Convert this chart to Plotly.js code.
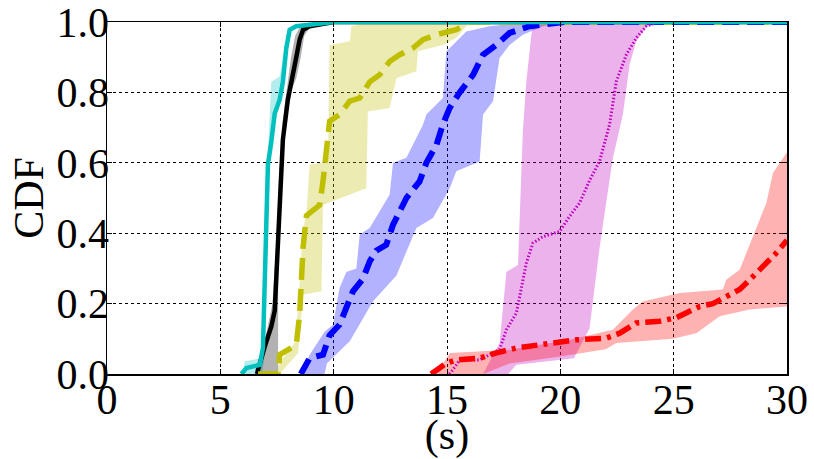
<!DOCTYPE html>
<html>
<head>
<meta charset="utf-8">
<script src="https://cdn.plot.ly/plotly-3.0.1.min.js"></script>
<style>html,body{margin:0;padding:0;background:#fff;}#chart{width:814px;height:459px;}</style>
</head>
<body>
<div id="chart"></div>
<script>
// ---- data (x in seconds, y = CDF) ----
const xTicks = [0, 5, 10, 15, 20, 25, 30];
const yTicks = [0.0, 0.2, 0.4, 0.6, 0.8, 1.0];

// cyan series
const cyanX = [5.93, 6.15, 6.74, 6.88, 6.96, 7.03, 7.10, 7.25, 7.40, 7.62, 7.76, 7.91, 8.06, 8.35, 9.24, 10.0, 30];
const cyanY = [0, 0.017, 0.026, 0.074, 0.263, 0.45, 0.595, 0.66, 0.74, 0.78, 0.83, 0.926, 0.978, 0.988, 0.995, 1, 1];
const cyanUpX = [6.0, 6.07, 6.81, 6.88, 6.96, 7.10, 7.25, 7.62, 7.84, 8.06, 8.65, 9.5];
const cyanUpY = [0, 0.036, 0.045, 0.074, 0.434, 0.62, 0.83, 0.845, 0.926, 0.98, 0.99, 1];
const cyanLoX = [6.85, 6.95, 7.02, 7.08, 7.15, 7.30, 7.48, 7.68, 7.82, 7.97, 8.15, 8.6, 9.5];
const cyanLoY = [0, 0.05, 0.26, 0.45, 0.595, 0.66, 0.74, 0.78, 0.83, 0.926, 0.978, 0.99, 1];

// black series
const blackX = [6.62, 6.66, 6.96, 7.25, 7.40, 7.50, 7.62, 7.76, 7.98, 8.20, 8.35, 8.50, 8.65, 8.94, 9.68, 10.0, 30];
const blackY = [0, 0.012, 0.078, 0.135, 0.18, 0.306, 0.495, 0.666, 0.78, 0.845, 0.90, 0.95, 0.978, 0.988, 0.995, 1, 1];
const blackUpX = [6.66, 6.85, 7.05, 7.3, 7.45, 7.58, 7.75, 7.95, 8.12, 8.3, 8.5, 8.9, 9.5];
const blackUpY = [0, 0.06, 0.12, 0.2, 0.35, 0.55, 0.72, 0.82, 0.9, 0.96, 0.985, 0.995, 1];
const blackLoX = [7.55, 7.55, 7.6, 7.72, 7.9, 8.1, 8.35, 8.55, 8.7, 9.0, 10.0];
const blackLoY = [0, 0.29, 0.45, 0.62, 0.73, 0.8, 0.84, 0.9, 0.96, 0.99, 1];

// olive (yellow) series
const oliveX = [6.66, 7.55, 7.62, 8.35, 8.50, 8.65, 8.80, 9.38, 9.53, 9.68, 9.82, 10.26, 10.71, 11.15, 11.59, 12.03, 12.47, 12.91, 13.50, 13.94, 14.53, 15.41, 16.0, 30];
const oliveY = [0, 0, 0.055, 0.083, 0.17, 0.36, 0.45, 0.48, 0.547, 0.64, 0.718, 0.737, 0.775, 0.784, 0.83, 0.85, 0.888, 0.907, 0.926, 0.95, 0.964, 0.978, 1, 1];
const oliveUpX = [7.45, 7.6, 8.3, 8.45, 8.62, 8.8, 8.94, 9.75, 9.82, 10.71, 10.78, 11.5];
const oliveUpY = [0, 0.03, 0.09, 0.2, 0.4, 0.46, 0.595, 0.604, 0.935, 0.945, 0.988, 1];
const oliveLoX = [7.62, 8.43, 8.65, 9.46, 9.53, 11.44, 11.51, 12.47, 12.77, 13.65, 13.72, 14.82, 15.41, 16.0];
const oliveLoY = [0, 0.06, 0.225, 0.235, 0.48, 0.528, 0.746, 0.756, 0.84, 0.86, 0.917, 0.935, 0.955, 1];

// blue series
const blueX = [8.55, 8.65, 8.94, 9.53, 9.82, 10.26, 10.56, 10.85, 11.29, 11.59, 11.88, 12.32, 12.62, 12.91, 13.21, 13.79, 14.09, 14.53, 14.82, 15.12, 15.56, 16.15, 16.59, 17.18, 17.76, 18.65, 19.53, 20.2, 30];
const blueY = [0, 0.012, 0.045, 0.055, 0.11, 0.14, 0.19, 0.235, 0.27, 0.32, 0.35, 0.367, 0.424, 0.46, 0.50, 0.547, 0.60, 0.65, 0.71, 0.756, 0.80, 0.85, 0.907, 0.935, 0.969, 0.988, 0.993, 1, 1];
const blueUpX = [8.55, 8.94, 9.6, 9.97, 10.26, 10.56, 11.0, 11.15, 11.59, 12.47, 12.62, 13.21, 13.94, 14.09, 14.82, 14.97, 15.26, 15.85, 16.88, 18.5];
const blueUpY = [0, 0.055, 0.12, 0.14, 0.244, 0.29, 0.30, 0.396, 0.415, 0.51, 0.60, 0.614, 0.708, 0.737, 0.784, 0.917, 0.935, 0.973, 0.988, 1];
const blueLoX = [9.6, 9.7, 10.71, 11.73, 12.77, 13.65, 14.38, 15.12, 15.41, 16.44, 16.59, 17.03, 17.32, 17.76, 18.35, 19.24, 20.2];
const blueLoY = [0, 0.03, 0.093, 0.206, 0.28, 0.415, 0.443, 0.528, 0.576, 0.604, 0.737, 0.775, 0.898, 0.935, 0.964, 0.988, 1];

// magenta series
const magX = [15.1, 15.26, 15.56, 16.44, 17.32, 17.62, 18.06, 18.35, 18.5, 18.79, 19.23, 19.97, 20.41, 20.85, 21.29, 21.73, 22.17, 22.47, 22.91, 23.35, 23.79, 24.23, 30];
const magY = [0, 0.012, 0.04, 0.04, 0.07, 0.126, 0.173, 0.268, 0.315, 0.372, 0.39, 0.405, 0.448, 0.486, 0.55, 0.604, 0.708, 0.831, 0.907, 0.955, 0.988, 1, 1];
const magUpX = [16.59, 17.32, 17.62, 18.13, 18.35, 18.5, 18.72, 18.85];
const magUpY = [0, 0.088, 0.29, 0.31, 0.694, 0.83, 0.964, 1];
const magLoX = [17.7, 18.06, 20.6, 21.29, 21.73, 22.03, 22.32, 22.76, 23.06, 23.35, 23.8, 24.7];
const magLoY = [0, 0.026, 0.045, 0.13, 0.358, 0.49, 0.614, 0.737, 0.88, 0.945, 0.985, 1];

// red series
const redX = [14.3, 14.53, 14.97, 15.41, 16.44, 17.18, 18.06, 19.68, 20.71, 22.03, 22.62, 23.35, 24.38, 25.12, 26.15, 26.73, 27.32, 27.91, 28.5, 29.09, 29.53, 30];
const redY = [0, 0.012, 0.031, 0.04, 0.045, 0.06, 0.074, 0.088, 0.097, 0.102, 0.116, 0.145, 0.15, 0.16, 0.192, 0.20, 0.22, 0.24, 0.277, 0.315, 0.344, 0.38];
const redUpX = [14.53, 15.12, 17.76, 20.41, 22.32, 23.2, 23.64, 25.26, 27.17, 27.32, 27.91, 28.5, 29.09, 29.38, 30];
const redUpY = [0, 0.06, 0.069, 0.097, 0.126, 0.183, 0.206, 0.23, 0.24, 0.268, 0.296, 0.39, 0.486, 0.571, 0.63];
const redLoX = [16.6, 17.76, 20.0, 22.0, 22.47, 24.97, 26.0, 27.03, 28.35, 30];
const redLoY = [0, 0.03, 0.05, 0.07, 0.088, 0.10, 0.116, 0.164, 0.183, 0.192];

// ---- styles ----
const FONT = '"Liberation Serif", "Times New Roman", serif';

function band(upX, upY, loX, loY, fill) {
  return {
    x: upX.concat(loX.slice().reverse()),
    y: upY.concat(loY.slice().reverse()),
    mode: 'lines', fill: 'toself', fillcolor: fill,
    line: {width: 0, color: fill}, hoverinfo: 'skip', showlegend: false
  };
}
function line(x, y, color, width, dash) {
  return {x: x, y: y, mode: 'lines', line: {color: color, width: width, dash: dash},
          hoverinfo: 'skip', showlegend: false};
}

const traces = [
  band(cyanUpX, cyanUpY, cyanLoX, cyanLoY, 'rgba(0,191,191,0.3)'),
  band(blackUpX, blackUpY, blackLoX, blackLoY, 'rgba(0,0,0,0.3)'),
  band(oliveUpX, oliveUpY, oliveLoX, oliveLoY, 'rgba(191,191,0,0.3)'),
  band(blueUpX, blueUpY, blueLoX, blueLoY, 'rgba(0,0,255,0.3)'),
  band(magUpX, magUpY, magLoX, magLoY, 'rgba(191,0,191,0.3)'),
  band(redUpX, redUpY, redLoX, redLoY, 'rgba(255,0,0,0.3)'),
  line(blackX, blackY, '#000000', 4.5, 'solid'),
  line(oliveX, oliveY, '#bfbf00', 5.5, '22px,9px'),
  line(blueX, blueY, '#0000ff', 6, '17px,8px'),
  line(magX, magY, '#bf00bf', 3, '1.5px,2px'),
  line(redX, redY, '#ff0000', 5.5, '16px,6px,4px,6px'),
  line(cyanX, cyanY, '#00bfbf', 4.5, 'solid')
];

const axisCommon = {
  showgrid: true, gridcolor: '#000000', gridwidth: 1, griddash: 'dot',
  zeroline: false, showline: true, linecolor: '#000000', linewidth: 1.5, mirror: 'ticks',
  ticks: 'inside', ticklen: 5, tickwidth: 1, tickcolor: '#000000',
  ticklabeloverflow: 'allow',
  tickfont: {family: FONT, size: 42, color: '#000000'}, fixedrange: true
};

const layout = {
  width: 814, height: 459,
  margin: {l: 107, r: 27, t: 22, b: 85},
  paper_bgcolor: '#ffffff', plot_bgcolor: '#ffffff',
  showlegend: false,
  xaxis: Object.assign({}, axisCommon, {
    range: [0, 30], tickvals: xTicks, ticktext: xTicks.map(String),
    ticklabelstandoff: -12,
    title: {text: '(s)', font: {family: FONT, size: 42, color: '#000000'}, standoff: 0}
  }),
  yaxis: Object.assign({}, axisCommon, {
    range: [0, 1], tickvals: yTicks, ticktext: yTicks.map(v => v.toFixed(1)),
    ticklabelstandoff: -12,
    title: {text: 'CDF', font: {family: FONT, size: 42, color: '#000000'}, standoff: 0}
  })
};

Plotly.newPlot('chart', traces, layout, {staticPlot: true, displayModeBar: false});
</script>
</body>
</html>
